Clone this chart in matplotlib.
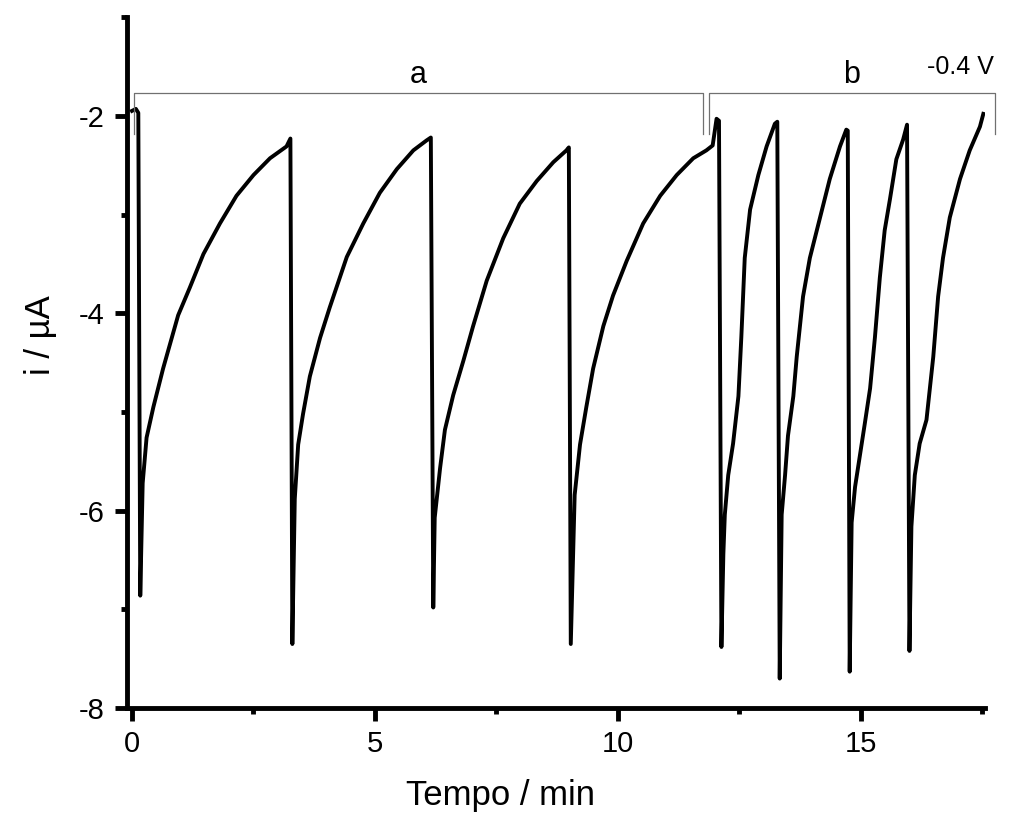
import matplotlib
matplotlib.use("Agg")
import matplotlib.pyplot as plt
from matplotlib.ticker import MultipleLocator

plt.rcParams["font.family"] = ["Liberation Sans", "DejaVu Sans"]
plt.rcParams["axes.unicode_minus"] = False

# current trace (time in min, current in uA)
tempo = [
    0.00, 0.08, 0.13, 0.17, 0.22, 0.30, 0.44, 0.64, 0.95, 1.19, 1.47, 1.81, 2.15, 2.50, 2.84, 3.18, 3.26,
    3.30, 3.35, 3.42, 3.52, 3.66, 3.87, 4.07, 4.42, 4.76, 5.10, 5.45, 5.79, 6.06, 6.15,
    6.20, 6.23, 6.34, 6.44, 6.61, 6.82, 7.02, 7.30, 7.64, 7.98, 8.33, 8.67, 8.94, 8.99,
    9.03, 9.11, 9.22, 9.35, 9.49, 9.70, 9.90, 10.18, 10.52, 10.87, 11.21, 11.55, 11.82, 11.95, 12.03, 12.08,
    12.13, 12.17, 12.20, 12.27, 12.37, 12.48, 12.54, 12.61, 12.72, 12.89, 13.06, 13.23, 13.28,
    13.33, 13.37, 13.44, 13.50, 13.61, 13.68, 13.81, 13.95, 14.16, 14.36, 14.57, 14.70, 14.73,
    14.77, 14.81, 14.88, 14.98, 15.08, 15.19, 15.29, 15.39, 15.49, 15.60, 15.73, 15.87, 15.95,
    16.00, 16.04, 16.11, 16.21, 16.35, 16.49, 16.59, 16.69, 16.83, 17.04, 17.24, 17.45, 17.52,
]
corrente = [
    -1.95, -1.93, -1.97, -6.86, -5.72, -5.26, -4.95, -4.56, -4.02, -3.74, -3.40, -3.09, -2.81, -2.60, -2.43, -2.31, -2.23,
    -7.35, -5.88, -5.33, -5.02, -4.64, -4.25, -3.94, -3.43, -3.09, -2.78, -2.54, -2.35, -2.25, -2.22,
    -6.98, -6.07, -5.57, -5.18, -4.83, -4.48, -4.13, -3.67, -3.24, -2.89, -2.66, -2.47, -2.35, -2.32,
    -7.35, -5.84, -5.33, -4.95, -4.56, -4.13, -3.82, -3.47, -3.09, -2.81, -2.60, -2.43, -2.35, -2.30, -2.03, -2.05,
    -7.38, -6.44, -6.04, -5.64, -5.32, -4.84, -4.24, -3.44, -2.95, -2.60, -2.31, -2.08, -2.06,
    -7.70, -6.04, -5.64, -5.24, -4.84, -4.44, -3.83, -3.44, -3.03, -2.64, -2.31, -2.14, -2.15,
    -7.63, -6.12, -5.76, -5.44, -5.12, -4.76, -4.24, -3.64, -3.16, -2.84, -2.44, -2.24, -2.09,
    -7.42, -6.16, -5.64, -5.32, -5.08, -4.44, -3.83, -3.44, -3.03, -2.64, -2.35, -2.11, -1.98,
]

# bracket annotations: label, start, end
brackets = [("a", 0.04, 11.75), ("b", 11.87, 17.76)]
bracket_top = -1.77
bracket_leg = -2.18

fig = plt.figure(figsize=(10.09, 8.14), dpi=100)
ax = fig.add_axes([0.126, 0.130, 0.850, 0.849])

ax.plot(tempo, corrente, color="black", lw=2.8, solid_joinstyle="round")

for label, x0, x1 in brackets:
    ax.plot([x0, x0, x1, x1], [bracket_leg, bracket_top, bracket_top, bracket_leg],
            color="#707070", lw=0.9, clip_on=False)
    ax.text((x0 + x1) / 2, -1.585, label, ha="center", va="center", fontsize=22)
ax.text(17.04, -1.51, "-0.4 V", ha="center", va="center", fontsize=18)

ax.set_xlim(-0.1, 17.55)
ax.set_ylim(-8, -1)
ax.xaxis.set_major_locator(MultipleLocator(5))
ax.xaxis.set_minor_locator(MultipleLocator(2.5))
ax.yaxis.set_major_locator(MultipleLocator(2))
ax.yaxis.set_minor_locator(MultipleLocator(1))

for side in ["top", "right"]:
    ax.spines[side].set_visible(False)
for side in ["left", "bottom"]:
    ax.spines[side].set_linewidth(3.5)

ax.tick_params(which="major", length=9, width=3.5, labelsize=21, pad=7)
ax.tick_params(which="minor", length=4, width=3.5)

ax.set_xlabel("Tempo / min", fontsize=25, labelpad=15, x=0.435)
ax.set_ylabel("i / µA", fontsize=25, labelpad=16, y=0.54)

fig.savefig("out.png", dpi=100)
